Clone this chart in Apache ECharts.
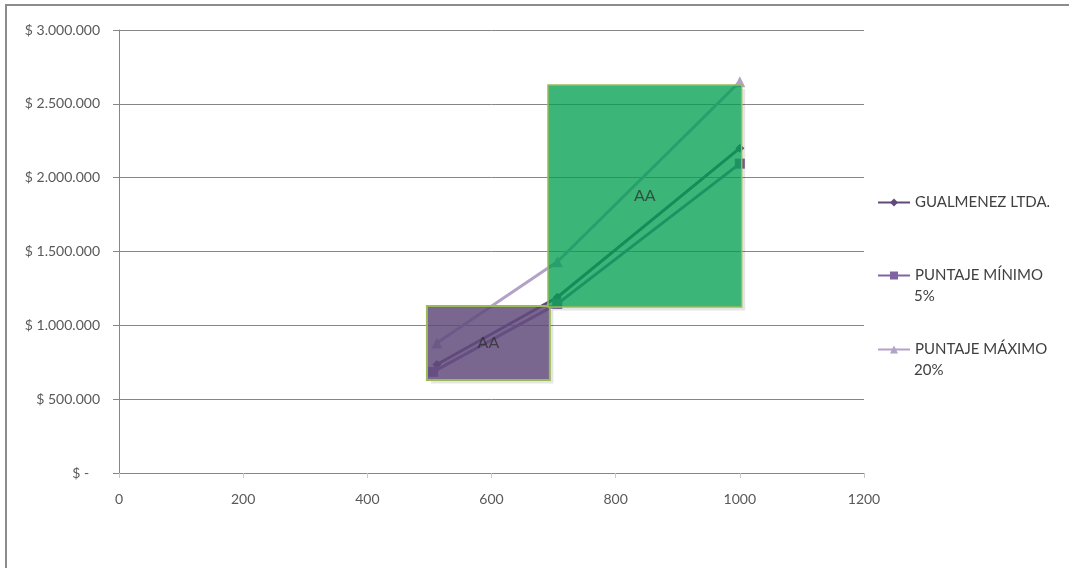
<!DOCTYPE html>
<html>
<head>
<meta charset="utf-8">
<title>Propuestas</title>
<script src="https://cdn.jsdelivr.net/npm/echarts@6/dist/echarts.min.js"></script>
<style>
  html, body { margin: 0; padding: 0; background: #ffffff; }
  #chart { width: 1069px; height: 568px; }
</style>
</head>
<body>
<div id="chart"></div>
<script>
// Series names as shown in the legend
const seriesNames = ['GUALMENEZ LTDA.', 'PUNTAJE MÍNIMO 5%', 'PUNTAJE MÁXIMO 20%'];

// Points of each series (x: puntaje, y: valor en pesos)
const gualmenezX = [512, 706, 1000];
const gualmenezY = [735000, 1190000, 2200000];
const minimoX = [506, 706, 1000];
const minimoY = [685000, 1145000, 2095000];
const maximoX = [512, 706, 1000];
const maximoY = [880000, 1430000, 2650000];

// Highlighted ranges drawn over the lines (data coordinates)
const boxXFrom = [496, 691];
const boxXTo = [694, 1003];
const boxYFrom = [630000, 1124000];
const boxYTo = [1131000, 2627000];
const boxLabels = ['AA', 'AA'];

// Axis ranges
const xMin = 0, xMax = 1200, xStep = 200;
const yMin = 0, yMax = 3000000, yStep = 500000;

const FONT = 'Lato, "Open Sans", sans-serif';
const TEXT = '#595959';
const GRID = '#868686';

const lineColors = ['#5f4a7b', '#8064a2', '#b3a2c7'];
const symbols = ['diamond', 'rect', 'triangle'];
const symbolSizes = [9, 10, 11];
const boxFills = ['rgba(96,74,123,0.84)', 'rgba(0,160,80,0.77)'];

function zip(xs, ys) { return xs.map((x, i) => [x, ys[i]]); }
const seriesData = [zip(gualmenezX, gualmenezY), zip(minimoX, minimoY), zip(maximoX, maximoY)];
const boxData = boxXFrom.map((x, i) => [x, boxXTo[i], boxYFrom[i], boxYTo[i], boxLabels[i]]);

function pesos(v) {
  if (v === 0) return '$ -   ';
  return '$ ' + String(v).replace(/\B(?=(\d{3})+(?!\d))/g, '.');
}

const chart = echarts.init(document.getElementById('chart'));

const lineSeries = seriesNames.map((name, i) => ({
  name: name,
  type: 'line',
  data: seriesData[i],
  z: 3,
  symbol: symbols[i],
  symbolSize: symbolSizes[i],
  showSymbol: true,
  lineStyle: { color: lineColors[i], width: 3 },
  itemStyle: { color: lineColors[i] },
  emphasis: { disabled: true },
  animation: false
}));

const boxSeries = {
  type: 'custom',
  name: 'rangos',
  z: 10,
  data: boxData,
  animation: false,
  silent: true,
  renderItem: function (params, api) {
    const tl = api.coord([api.value(0), api.value(3)]);
    const br = api.coord([api.value(1), api.value(2)]);
    const w = br[0] - tl[0], h = br[1] - tl[1];
    return {
      type: 'group',
      children: [
        {
          type: 'polyline',
          shape: { points: [[tl[0] + w + 2, tl[1] + 4], [tl[0] + w + 2, tl[1] + h + 2], [tl[0] + 4, tl[1] + h + 2]] },
          style: { stroke: 'rgba(0,0,0,0.1)', lineWidth: 3, fill: null }
        },
        {
          type: 'rect',
          shape: { x: tl[0], y: tl[1], width: w, height: h },
          style: { fill: boxFills[params.dataIndex], stroke: '#9bbb59', lineWidth: params.dataIndex === 0 ? 2 : 1.5 },
          textContent: {
            style: { text: api.value(4), fill: 'rgba(45,45,45,0.75)', font: '16px ' + FONT }
          },
          textConfig: { position: 'inside' }
        }
      ]
    };
  }
};

function legendFor(name, top) {
  return {
    data: [name],
    orient: 'vertical',
    left: 877,
    top: top,
    padding: 0,
    itemWidth: 32,
    itemHeight: 10,
    itemGap: 0,
    selectedMode: false,
    formatter: function (n) { return n.replace(/ \d+%$/, ''); },
    textStyle: { color: '#404040', fontFamily: FONT, fontSize: 15 }
  };
}

chart.setOption({
  backgroundColor: '#ffffff',
  animation: false,
  grid: { left: 119, top: 30, width: 745, height: 443 },
  xAxis: {
    type: 'value',
    min: xMin, max: xMax, interval: xStep,
    axisLine: { show: true, lineStyle: { color: GRID, width: 1 } },
    axisTick: { show: true, inside: false, length: 5, lineStyle: { color: '#c8c8c8' } },
    splitLine: { show: false },
    axisLabel: { color: TEXT, fontFamily: FONT, fontSize: 14, margin: 19, formatter: v => String(v) }
  },
  yAxis: {
    type: 'value',
    min: yMin, max: yMax, interval: yStep,
    axisLine: { show: true, lineStyle: { color: GRID, width: 1 } },
    axisTick: { show: true, inside: false, length: 6, lineStyle: { color: GRID } },
    splitLine: { show: true, lineStyle: { color: GRID, width: 1 } },
    axisLabel: { color: TEXT, fontFamily: FONT, fontSize: 14, margin: 19, formatter: pesos }
  },
  legend: [
    legendFor(seriesNames[0], 195),
    legendFor(seriesNames[1], 268),
    legendFor(seriesNames[2], 342)
  ],
  graphic: [
    {
      type: 'polyline',
      shape: { points: [[6, 568], [6, 5], [1069, 5]] },
      style: { stroke: '#8c8c8c', lineWidth: 2, fill: null },
      silent: true
    },
    {
      type: 'text', left: 914, top: 289,
      style: { text: '5%', fill: '#404040', font: '15px ' + FONT }
    },
    {
      type: 'text', left: 914, top: 363,
      style: { text: '20%', fill: '#404040', font: '15px ' + FONT }
    }
  ],
  series: lineSeries.concat([boxSeries])
});
</script>
</body>
</html>
